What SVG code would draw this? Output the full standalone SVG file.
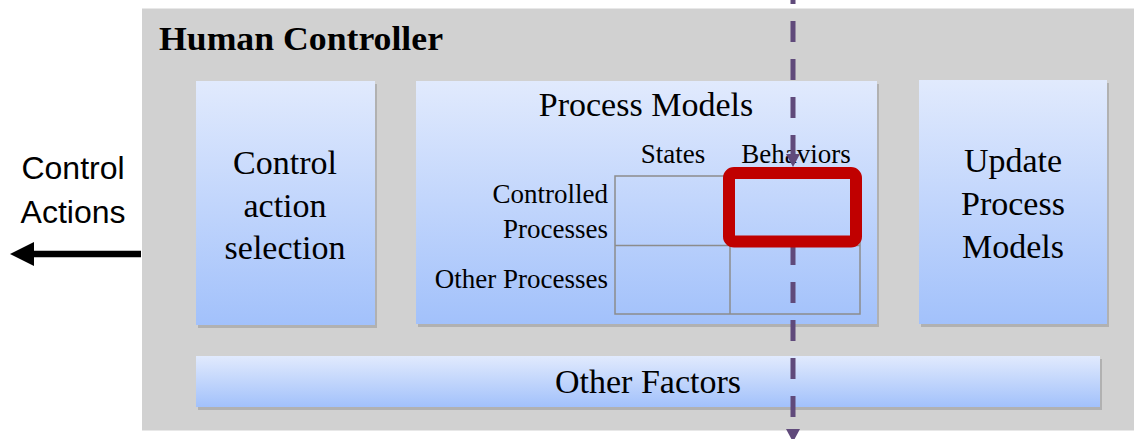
<svg xmlns="http://www.w3.org/2000/svg" width="1134" height="439" viewBox="0 0 1134 439">
  <defs>
    <linearGradient id="boxFill" x1="0" y1="0" x2="0" y2="1">
      <stop offset="0" stop-color="#e1eafd"/>
      <stop offset="1" stop-color="#a2c1fb"/>
    </linearGradient>
  </defs>

  <rect width="1134" height="439" fill="#fff"/>

  <!-- enclosing controller -->
  <g id="human-controller">
    <rect x="142" y="8.5" width="992" height="422" fill="#d1d1d1"/>
    <text x="159" y="50" font-family="Liberation Serif" font-size="33" font-weight="bold" textLength="284" lengthAdjust="spacingAndGlyphs">Human Controller</text>
  </g>

  <!-- soft offset shadows under the boxes -->
  <g id="box-shadows" fill="#8a8a8a" fill-opacity="0.45">
    <rect x="198" y="84" width="179" height="244"/>
    <rect x="418" y="84" width="461" height="243"/>
    <rect x="921" y="83" width="188" height="244"/>
    <rect x="198" y="359" width="904" height="51"/>
  </g>

  <g id="control-action-selection">
    <rect x="196" y="81" width="179" height="244" fill="url(#boxFill)"/>
    <text x="285" y="174" font-family="Liberation Serif" font-size="34" text-anchor="middle">Control</text>
    <text x="285" y="217" font-family="Liberation Serif" font-size="34" text-anchor="middle">action</text>
    <text x="285" y="259" font-family="Liberation Serif" font-size="34" text-anchor="middle">selection</text>
  </g>

  <g id="process-models">
    <rect x="416" y="81" width="461" height="243" fill="url(#boxFill)"/>
    <text x="646" y="116" font-family="Liberation Serif" font-size="34" text-anchor="middle">Process Models</text>
    <text x="673" y="163" font-family="Liberation Serif" font-size="27" text-anchor="middle">States</text>
    <text x="796" y="163" font-family="Liberation Serif" font-size="27" text-anchor="middle">Behaviors</text>
    <text x="608" y="203" font-family="Liberation Serif" font-size="27" text-anchor="end">Controlled</text>
    <text x="608" y="238" font-family="Liberation Serif" font-size="27" text-anchor="end">Processes</text>
    <text x="608" y="288" font-family="Liberation Serif" font-size="27" text-anchor="end">Other Processes</text>
    <g fill="none" stroke="#8c8c8c" stroke-width="1.5">
      <rect x="615" y="176" width="245" height="138"/>
      <line x1="615" y1="245.5" x2="860" y2="245.5"/>
      <line x1="730" y1="176" x2="730" y2="314"/>
    </g>
  </g>

  <g id="update-process-models">
    <rect x="919" y="80" width="188" height="244" fill="url(#boxFill)"/>
    <text x="1013" y="172" font-family="Liberation Serif" font-size="34" text-anchor="middle">Update</text>
    <text x="1013" y="215" font-family="Liberation Serif" font-size="34" text-anchor="middle">Process</text>
    <text x="1013" y="258" font-family="Liberation Serif" font-size="34" text-anchor="middle">Models</text>
  </g>

  <g id="other-factors">
    <rect x="196" y="356" width="904" height="51" fill="url(#boxFill)"/>
    <text x="648" y="393" font-family="Liberation Serif" font-size="34" text-anchor="middle">Other Factors</text>
  </g>

  <g id="control-actions-label">
    <text x="73" y="179" font-family="Liberation Sans" font-size="32" text-anchor="middle">Control</text>
    <text x="73" y="223" font-family="Liberation Sans" font-size="32" text-anchor="middle">Actions</text>
  </g>

  <g id="connectors">
    <!-- outgoing control actions -->
    <line x1="141" y1="254" x2="32" y2="254" stroke="#000" stroke-width="6.5"/>
    <path d="M10,254 L34,242 L34,266 Z" fill="#000"/>
    <!-- feedback into the behaviour model, and onward -->
    <g stroke="#604a7b" stroke-width="5" stroke-dasharray="21 17" fill="none">
      <line x1="793" y1="-17" x2="793" y2="156"/>
      <line x1="793" y1="244" x2="793" y2="430"/>
    </g>
    <g fill="#604a7b">
      <path d="M786,154 L800,154 L793,167 Z"/>
      <path d="M786,429 L800,429 L793,442 Z"/>
    </g>
    <!-- highlighted cell -->
    <rect x="729" y="173" width="127" height="68.5" rx="5" fill="none" stroke="#c00000" stroke-width="12"/>
  </g>
</svg>
